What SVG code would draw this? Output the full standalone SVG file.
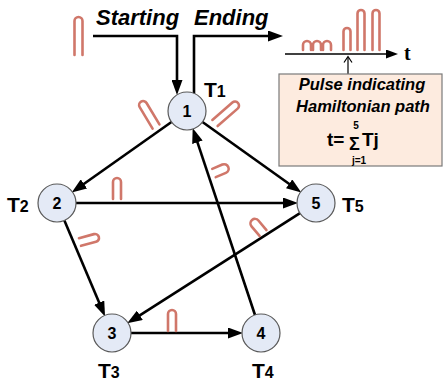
<svg xmlns="http://www.w3.org/2000/svg" width="443" height="383" viewBox="0 0 443 383">
<style>
.edge{fill:none;stroke:#000;stroke-width:2.6}
.node circle{fill:#e4eaf6;stroke:#5a5a5a;stroke-width:1.2}
.num{font-family:"Liberation Sans",Arial,sans-serif;font-weight:bold;font-size:16px;text-anchor:middle;fill:#000}
.lbl{font-family:"Liberation Sans",Arial,sans-serif;font-weight:bold;font-size:21px;fill:#000}
.sub{font-size:16px}
.title{font-family:"Liberation Sans",Arial,sans-serif;font-weight:bold;font-style:italic;font-size:22px;fill:#000}
.box{font-family:"Liberation Sans",Arial,sans-serif;font-weight:bold;font-style:italic;font-size:16.5px;text-anchor:middle;fill:#000}
.f{font-family:"Liberation Sans",Arial,sans-serif;font-weight:bold;fill:#000}
.pulse{fill:none;stroke:#d0776a;stroke-width:2.6;stroke-linecap:round}
</style>
<defs>
<marker id="ah" markerUnits="userSpaceOnUse" markerWidth="15" markerHeight="11" refX="8" refY="5.5" orient="auto">
<path d="M0,0 L15,5.5 L0,11 z" fill="#000"/>
</marker>
<marker id="ahs" markerUnits="userSpaceOnUse" markerWidth="12" markerHeight="9" refX="6" refY="4.5" orient="auto">
<path d="M0,0 L12,4.5 L0,9 z" fill="#000"/>
</marker>
</defs>

<g id="connectors">
<path class="edge" d="M93,36 H177 V88" marker-end="url(#ah)"/>
<path class="edge" d="M194,94 V36 H276" marker-end="url(#ah)"/>
<line class="edge" x1="171.5" y1="122" x2="77.4" y2="188.5" marker-end="url(#ah)"/>
<line class="edge" x1="202.5" y1="122" x2="295.6" y2="188.5" marker-end="url(#ah)"/>
<line class="edge" x1="76" y1="203" x2="291" y2="203" marker-end="url(#ah)"/>
<line class="edge" x1="64.4" y1="220.5" x2="102.3" y2="310" marker-end="url(#ah)"/>
<line class="edge" x1="300" y1="213.2" x2="133.1" y2="319.6" marker-end="url(#ah)"/>
<line class="edge" x1="255" y1="315" x2="194.9" y2="134.7" marker-end="url(#ah)"/>
<line class="edge" x1="131" y1="333" x2="236" y2="333" marker-end="url(#ah)"/>
</g>

<g id="pulses">
<path class="pulse" d="M74.5,55 V21 A4,4 0 0 1 82.5,21 V55"/>
<g transform="translate(156,126.5) rotate(-31)"><path class="pulse" d="M-4,0 V-25 A4,4 0 0 1 4,-25 V0"/></g>
<g transform="translate(215,123) rotate(49)"><path class="pulse" d="M-4,0 V-26.5 A4,4 0 0 1 4,-26.5 V0"/></g>
<path class="pulse" d="M113,199 V182 A4,4 0 0 1 121,182 V199"/>
<g transform="translate(80,242) rotate(75)"><path class="pulse" d="M-4,0 V-15.5 A4,4 0 0 1 4,-15.5 V0"/></g>
<g transform="translate(214,173) rotate(67)"><path class="pulse" d="M-4.5,0 V-11 A4.5,4.5 0 0 1 4.5,-11 V0"/></g>
<g transform="translate(263,233) rotate(-40)"><path class="pulse" d="M-4.5,0 V-12.5 A4.5,4.5 0 0 1 4.5,-12.5 V0"/></g>
<path class="pulse" d="M168,331 V314 A4,4 0 0 1 176,314 V331"/>
<path class="pulse" d="M303,50 V45 A4,4 0 0 1 311,45 V50"/>
<path class="pulse" d="M313,50 V45 A4,4 0 0 1 321,45 V50"/>
<path class="pulse" d="M323,50 V45 A4,4 0 0 1 331,45 V50"/>
<path class="pulse" d="M343.5,50 V31.5 A3.5,3.5 0 0 1 350.5,31.5 V50"/>
<path class="pulse" d="M357.5,50 V13.5 A3.5,3.5 0 0 1 364.5,13.5 V50"/>
<path class="pulse" d="M372.5,50 V13.5 A3.5,3.5 0 0 1 379.5,13.5 V50"/>
</g>

<g id="timeline">
<line x1="285" y1="54" x2="392" y2="54" stroke="#000" stroke-width="1.6" marker-end="url(#ahs)"/>
<text x="404" y="60" font-family="'Liberation Serif','Times New Roman',serif" font-weight="bold" font-size="20">t</text>
<line x1="348" y1="74" x2="348" y2="57" stroke="#000" stroke-width="1.2"/>
<polyline points="344,62.5 348,56.5 352,62.5" fill="none" stroke="#000" stroke-width="1.2"/>
</g>

<g id="infobox">
<rect x="279" y="74" width="163" height="92" fill="#fdebdf" stroke="#7a7a7a" stroke-width="1.2"/>
<text class="box" x="362" y="90">Pulse indicating</text>
<text class="box" x="363" y="112">Hamiltonian path</text>
<text class="f" x="327" y="146" font-size="19">t=</text>
<text class="f" x="354.5" y="150" font-size="18" text-anchor="middle">Σ</text>
<text class="f" x="356" y="129" font-size="10" text-anchor="middle">5</text>
<text class="f" x="359" y="164" font-size="10" text-anchor="middle">j=1</text>
<text class="f" x="362" y="146" font-size="19">Tj</text>
</g>

<g id="titles">
<text class="title" x="96" y="25">Starting</text>
<text class="title" x="194" y="25">Ending</text>
</g>

<g id="node1" class="node"><circle cx="187" cy="111" r="19"/><text class="num" x="187" y="116.5">1</text><text class="lbl" x="204" y="97">T<tspan class="sub">1</tspan></text></g>
<g id="node2" class="node"><circle cx="57" cy="203" r="19"/><text class="num" x="57" y="208.5">2</text><text class="lbl" x="7" y="212">T<tspan class="sub">2</tspan></text></g>
<g id="node5" class="node"><circle cx="316" cy="203" r="19"/><text class="num" x="316" y="208.5">5</text><text class="lbl" x="342" y="212">T<tspan class="sub">5</tspan></text></g>
<g id="node3" class="node"><circle cx="112" cy="333" r="19"/><text class="num" x="112" y="338.5">3</text><text class="lbl" x="98" y="378">T<tspan class="sub">3</tspan></text></g>
<g id="node4" class="node"><circle cx="261" cy="333" r="19"/><text class="num" x="261" y="338.5">4</text><text class="lbl" x="252" y="378">T<tspan class="sub">4</tspan></text></g>
</svg>
